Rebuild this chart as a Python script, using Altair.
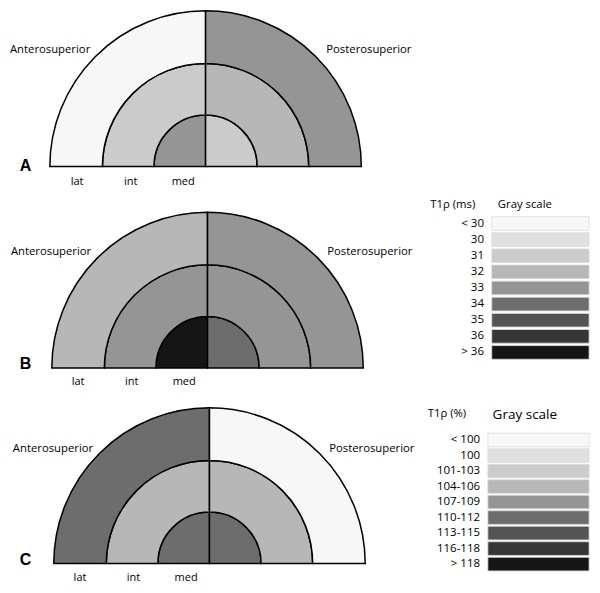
import math
import altair as alt
import pandas as pd

# ---- data ----
gray_colors = ["#f7f7f7", "#e0e0e0", "#cbcbcb", "#b7b7b7", "#959595",
               "#6d6d6d", "#545454", "#363636", "#151515"]
ms_labels = ["< 30", "30", "31", "32", "33", "34", "35", "36", "> 36"]
pct_labels = ["< 100", "100", "101-103", "104-106", "107-109",
              "110-112", "113-115", "116-118", "> 118"]

panels = ["A", "B", "C"]
rings = ["med", "int", "lat"]
ring_inner = [0, 53, 106]
ring_outer = [53, 106, 160]
# gray-scale class index per ring (med, int, lat)
anterosuperior = {"A": [4, 2, 0], "B": [8, 4, 3], "C": [5, 3, 5]}
posterosuperior = {"A": [2, 3, 4], "B": [5, 4, 4], "C": [5, 3, 0]}

# layout (image pixel coordinates)
center_x = [203, 205, 207]
base_y = [163, 370, 571]
label_y = [179, 384, 586]
side_y = [43, 251, 453]
letter_y = [162, 366, 567]

# ---- build tables ----
arc_rows = []
for p, cx, cy in zip(panels, center_x, base_y):
    for side, table, t0, t1 in [("ant", anterosuperior, 270, 360),
                                ("post", posterosuperior, 0, 90)]:
        for i, ring in enumerate(rings):
            arc_rows.append(dict(panel=p, side=side, ring=ring, cx=cx, cy=cy,
                                 t0=t0, t1=t1, r_in=ring_inner[i], r_out=ring_outer[i],
                                 fill=gray_colors[table[p][i]]))
arcs_df = pd.DataFrame(arc_rows)

legend_rows = []
for labels, x0, x1, yfirst, step in [(ms_labels, 497, 597, 221.5, 16.56),
                                     (pct_labels, 493, 597, 444, 15.94)]:
    for k, (lab, col) in enumerate(zip(labels, gray_colors)):
        yc = yfirst + k * step
        legend_rows.append(dict(x0=x0, x1=x1, y0=yc - 7, y1=yc + 7, fill=col,
                                lab=lab, lx=x0 - 8, ly=yc))
legend_df = pd.DataFrame(legend_rows)

ring_lab_rows = []
for p, ly in zip(panels, label_y):
    off = {"A": 0, "B": 1, "C": 3}[p]
    for name, lx in zip(["lat", "int", "med"], [71, 126, 180]):
        ring_lab_rows.append(dict(x=lx + off, y=ly, text=name))
ring_lab_df = pd.DataFrame(ring_lab_rows)

side_rows = []
for p, sy in zip(panels, side_y):
    off = {"A": 0, "B": 1, "C": 3}[p]
    side_rows.append(dict(x=2 + off, y=sy, text="Anterosuperior"))
    side_rows.append(dict(x=327 + off, y=sy, text="Posterosuperior"))
side_df = pd.DataFrame(side_rows)

letter_df = pd.DataFrame(dict(x=[18, 18, 18], y=letter_y, text=panels))

head_df = pd.DataFrame(dict(x=[457, 531, 451], y=[202, 202, 417],
                            text=["T1ρ (ms)", "Gray scale", "T1ρ (%)"]))
head2_df = pd.DataFrame(dict(x=[531], y=[418], text=["Gray scale"]))

# ---- scales (image coords squeezed into the 584x577 drawing area) ----
W, H = 584, 577
S = W / 600.0
xs = alt.Scale(domain=[0, 600], nice=False, zero=False)
ys = alt.Scale(domain=[0, 593], nice=False, zero=False, reverse=True)
X = lambda f: alt.X(f, scale=xs, axis=None)
Y = lambda f: alt.Y(f, scale=ys, axis=None)
FONT = "Open Sans"

arcs = alt.Chart(arcs_df).mark_arc(stroke="black", strokeWidth=1.5).encode(
    x=X("cx:Q"), y=Y("cy:Q"),
    theta=alt.Theta("t0:Q", scale=alt.Scale(domain=[0, 360], range=[0, 2 * math.pi])),
    theta2="t1:Q",
    radius=alt.Radius("r_out:Q", scale=alt.Scale(type="linear", domain=[0, 160],
                                                 range=[0, 160 * S], zero=True)),
    radius2="r_in:Q",
    fill=alt.Fill("fill:N", scale=None),
)

swatches = alt.Chart(legend_df).mark_rect(stroke="#dcdcdc", strokeWidth=0.8).encode(
    x=X("x0:Q"), x2="x1:Q", y=Y("y0:Q"), y2="y1:Q",
    fill=alt.Fill("fill:N", scale=None),
)

sw_labels = alt.Chart(legend_df).mark_text(align="right", baseline="middle",
                                           font=FONT, fontSize=11.5, color="black").encode(
    x=X("lx:Q"), y=Y("ly:Q"), text="lab:N")

ring_labels = alt.Chart(ring_lab_df).mark_text(align="center", baseline="middle",
                                               font=FONT, fontSize=11, color="black").encode(
    x=X("x:Q"), y=Y("y:Q"), text="text:N")

side_labels = alt.Chart(side_df).mark_text(align="left", baseline="middle",
                                           font=FONT, fontSize=11.3, color="black").encode(
    x=X("x:Q"), y=Y("y:Q"), text="text:N")

letters = alt.Chart(letter_df).mark_text(align="center", baseline="middle",
                                         font="Liberation Sans", fontWeight="bold",
                                         fontSize=16, color="black").encode(
    x=X("x:Q"), y=Y("y:Q"), text="text:N")

heads = alt.Chart(head_df).mark_text(align="center", baseline="middle",
                                     font=FONT, fontSize=11.3, color="black").encode(
    x=X("x:Q"), y=Y("y:Q"), text="text:N")

heads2 = alt.Chart(head2_df).mark_text(align="center", baseline="middle",
                                       font=FONT, fontSize=13.5, color="black").encode(
    x=X("x:Q"), y=Y("y:Q"), text="text:N")

chart = alt.layer(arcs, swatches, sw_labels, ring_labels, side_labels, letters,
                  heads, heads2).properties(
    width=W, height=H, padding=0, autosize=alt.AutoSizeParams(type="none"),
    background="white",
).configure_view(stroke=None)

chart.save("out.html", embed_options={"renderer": "svg", "actions": False})
